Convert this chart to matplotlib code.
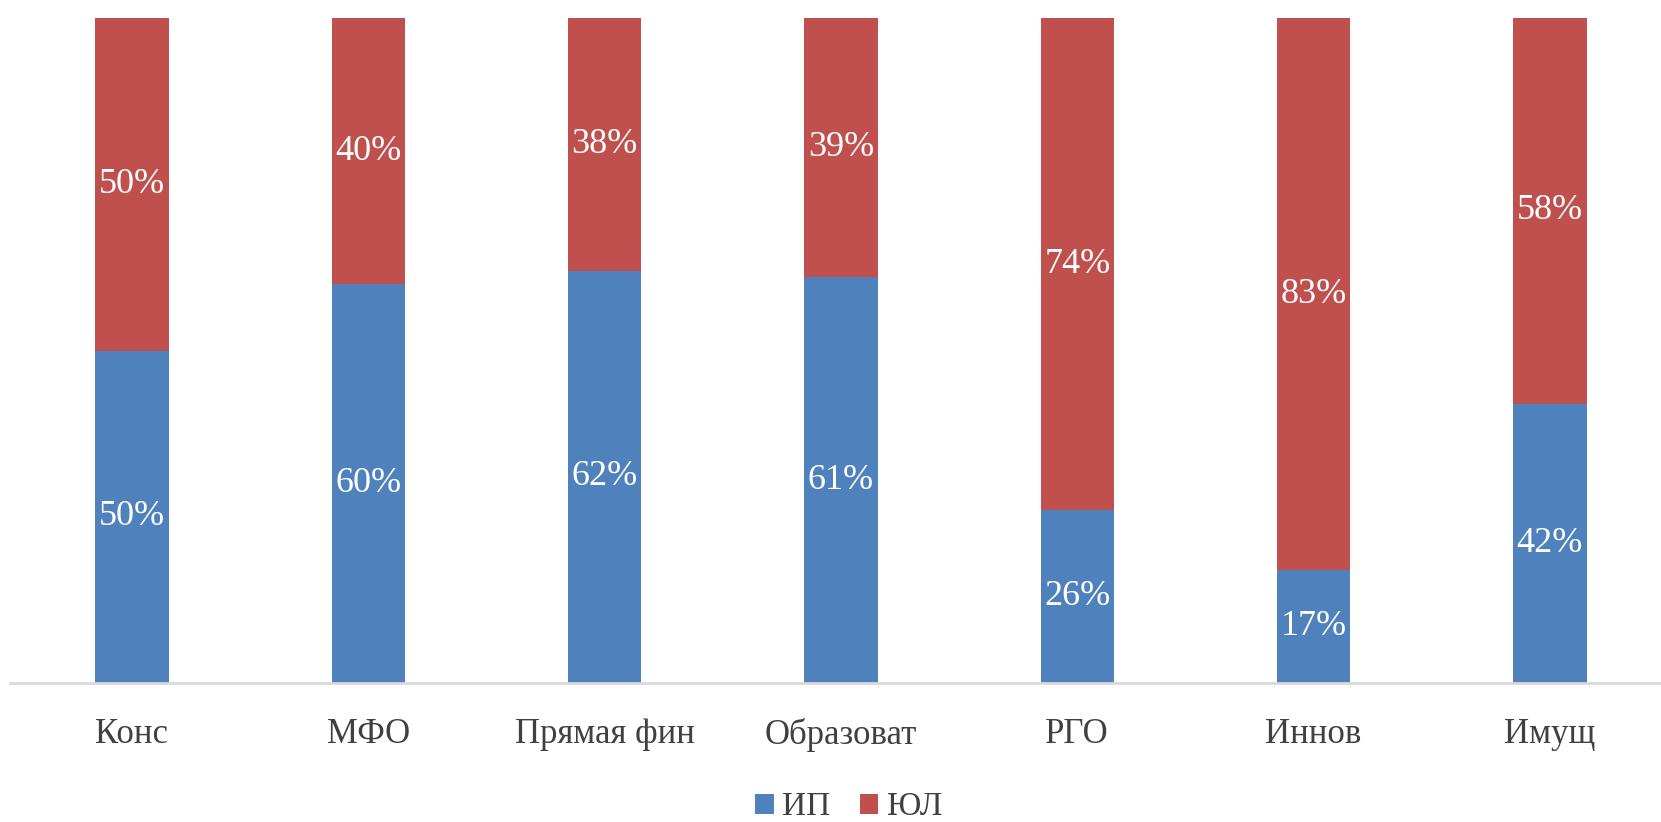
import numpy as np
import matplotlib.pyplot as plt

categories = ["Конс", "МФО", "Прямая фин", "Образоват", "РГО", "Иннов", "Имущ"]
ip = [50, 60, 62, 61, 26, 17, 42]
ul = [50, 40, 38, 39, 74, 83, 58]

plt.rcParams['font.family'] = ['Liberation Serif', 'DejaVu Serif']

fig = plt.figure(figsize=(16.61, 8.22), dpi=100)
ax = fig.add_axes([0.006, 0.169, 0.994, 0.809])

x = np.arange(len(categories))
w = 0.31
ax.bar(x, ip, w, color="#4F81BD", label="ИП")
ax.bar(x, ul, w, bottom=ip, color="#C0504D", label="ЮЛ")

for i in range(len(categories)):
    ax.text(x[i], ip[i] / 2, f"{ip[i]}%", ha="center", va="center",
            color="white", fontsize=26)
    ax.text(x[i], ip[i] + ul[i] / 2, f"{ul[i]}%", ha="center", va="center",
            color="white", fontsize=26)

ax.set_xlim(-0.516, 6.47)
ax.set_ylim(0, 100)
ax.set_yticks([])
ax.set_xticks(x)
ax.set_xticklabels(categories, fontsize=25, color="#404040")
ax.tick_params(axis="x", length=0, pad=25)
for s in ["top", "right", "left"]:
    ax.spines[s].set_visible(False)
ax.spines["bottom"].set_color("#D9D9D9")
ax.spines["bottom"].set_linewidth(2)

fig.legend(loc="center", bbox_to_anchor=(0.511, 0.018), ncol=2, frameon=False,
           fontsize=24, handlelength=0.55, handleheight=0.55, handletextpad=0.25,
           columnspacing=0.9, labelcolor="#404040")

fig.savefig("out.png", dpi=100)
